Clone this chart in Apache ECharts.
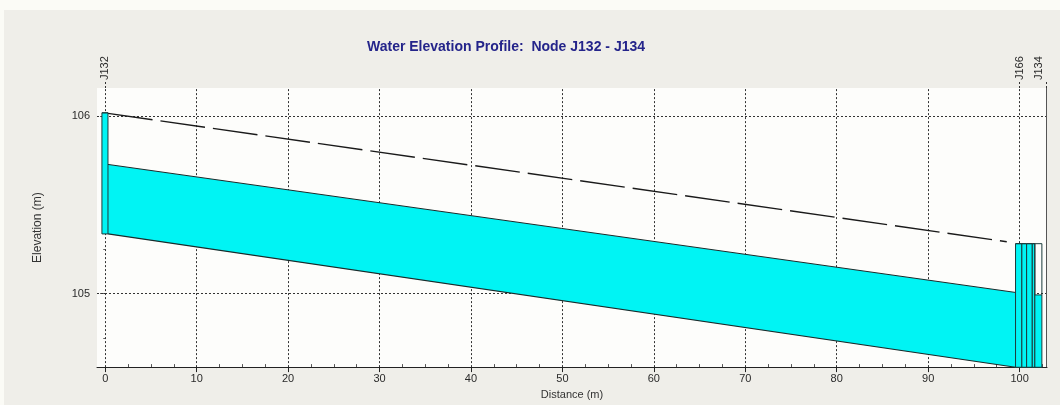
<!DOCTYPE html>
<html><head><meta charset="utf-8">
<script src="https://cdn.jsdelivr.net/npm/echarts@6/dist/echarts.min.js"></script>
<style>html,body{margin:0;padding:0;background:#fbfbf6}#c{width:1060px;height:405px}</style>
</head><body><div id="c"></div>
<script>
// ---- data ----
const titleText = 'Water Elevation Profile:  Node J132 - J134';
const xTickLabels = [0, 10, 20, 30, 40, 50, 60, 70, 80, 90, 100];
const xMinorTicks = [2.5, 5, 7.5, 12.5, 15, 17.5, 22.5, 25, 27.5, 32.5, 35, 37.5, 42.5, 45, 47.5,
  52.5, 55, 57.5, 62.5, 65, 67.5, 72.5, 75, 77.5, 82.5, 85, 87.5, 92.5, 95, 97.5, 102.5];
const yTickLabels = [105, 106];
const yMinorTicks = [104.75, 105.25, 105.5, 105.75];
const nodeNames = ['J132', 'J166', 'J134'];
const nodeX = [0, 100, 102.95];
// conduit J132 -> J166
const crownX = [0.3, 98.6];
const crownY = [106.017, 105.293];
const waterX = [0.3, 99.56];
const waterSurface = [105.729, 105.007];
const invertY = [105.337, 104.585];
// structures (manholes / short links): left, right, bottom, top, water level
const structX0 = [-0.36, 99.56, 100.25, 100.77, 101.39, 101.67];
const structX1 = [0.3, 100.25, 100.77, 101.39, 101.67, 102.44];
const structBottom = [105.337, 104.585, 104.585, 104.585, 104.585, 104.585];
const structTop = [106.02, 105.282, 105.282, 105.282, 105.282, 105.282];
const structWater = [106.02, 105.282, 105.282, 105.282, 105.282, 104.993];

// ---- chart ----
const FONT = 'Liberation Sans, Arial, sans-serif';
const X_MIN = -0.9, X_MAX = 103, Y_MIN = 104.586, Y_MAX = 106.16;
const CYAN = '#00f4f4';
const chart = echarts.init(document.getElementById('c'));

const structData = structX0.map((x0, i) => [x0, structX1[i], structBottom[i], structTop[i], structWater[i]]);

const gridMarks = xTickLabels.map(v => ({ xAxis: v }))
  .concat(yTickLabels.map(v => ({ yAxis: v })));

chart.setOption({
  backgroundColor: '#efeee9',
  animation: false,
  graphic: [
    { type: 'rect', left: 0, top: 0, shape: { width: 1060, height: 10 }, style: { fill: '#fbfbf6' }, z: -10 },
    { type: 'rect', left: 0, top: 0, shape: { width: 4, height: 405 }, style: { fill: '#fbfbf6' }, z: -10 }
  ],
  title: {
    text: titleText, left: 362, top: 35,
    textStyle: { fontFamily: FONT, fontSize: 14, fontWeight: 'bold', color: '#24248a' }
  },
  grid: { left: 97, right: 13, top: 88, bottom: 32, show: true, backgroundColor: '#fdfdfb', borderWidth: 0 },
  xAxis: [
    {
      type: 'value', position: 'bottom', min: X_MIN, max: X_MAX,
      axisLine: { show: true, lineStyle: { color: '#222', width: 1 } },
      axisTick: { show: true, customValues: xTickLabels, length: 5, lineStyle: { color: '#222' } },
      axisLabel: { customValues: xTickLabels, margin: 6, fontFamily: FONT, fontSize: 11, color: '#2a2a2a' },
      splitLine: { show: false },
      name: 'Distance (m)', nameLocation: 'middle', nameGap: 21,
      nameTextStyle: { fontFamily: FONT, fontSize: 11, color: '#333' }
    },
    {
      type: 'value', position: 'bottom', min: X_MIN, max: X_MAX,
      axisLine: { show: false },
      axisTick: { show: true, inside: true, customValues: xMinorTicks, length: 3, lineStyle: { color: '#555' } },
      axisLabel: { show: false }, splitLine: { show: false }
    },
    {
      type: 'value', position: 'top', min: X_MIN, max: X_MAX,
      axisLine: { show: false },
      axisTick: { show: true, customValues: nodeX, length: 8, lineStyle: { color: '#333', type: [2, 2] } },
      axisLabel: {
        customValues: nodeX, rotate: -90, margin: 8, fontFamily: FONT, fontSize: 11, color: '#2a2a2a',
        formatter: v => {
          const i = nodeX.indexOf(v);
          return i === nodeNames.length - 1 ? '{e|' + nodeNames[i] + '}' : nodeNames[i];
        },
        rich: { e: { fontFamily: FONT, fontSize: 11, color: '#2a2a2a', padding: [0, 0, 16, 0] } }
      },
      splitLine: { show: false }
    }
  ],
  yAxis: [
    {
      type: 'value', position: 'left', min: Y_MIN, max: Y_MAX,
      axisLine: { show: false },
      axisTick: { show: true, customValues: yTickLabels, length: 5, lineStyle: { color: '#333', type: [2, 1] } },
      axisLabel: { customValues: yTickLabels, margin: 7, fontFamily: FONT, fontSize: 11, color: '#2a2a2a' },
      splitLine: { show: false },
      name: 'Elevation (m)', nameLocation: 'middle', nameGap: 53, nameRotate: 90,
      nameTextStyle: { fontFamily: FONT, fontSize: 12, color: '#333' }
    },
    {
      type: 'value', position: 'left', min: Y_MIN, max: Y_MAX,
      axisLine: { show: false },
      axisTick: { show: true, customValues: yMinorTicks, length: 2, lineStyle: { color: '#666' } },
      axisLabel: { show: false }, splitLine: { show: false }
    }
  ],
  series: [
    {
      type: 'line', data: [], silent: true, z: 1,
      markLine: {
        silent: true, symbol: 'none', z: 1, label: { show: false },
        lineStyle: { color: '#333', type: [2, 2], width: 1 },
        data: gridMarks.concat([{ xAxis: nodeX[2], lineStyle: { color: '#555', type: 'solid', width: 1 } }])
      }
    },
    {
      type: 'custom', z: 2, silent: true, data: [[0]],
      renderItem: (params, api) => {
        const pts = [
          api.coord([waterX[0], waterSurface[0]]),
          api.coord([waterX[1], waterSurface[1]]),
          api.coord([waterX[1], invertY[1]]),
          api.coord([waterX[0], invertY[0]])
        ];
        return { type: 'polygon', shape: { points: pts }, style: { fill: CYAN, stroke: null } };
      }
    },
    {
      type: 'line', z: 3, silent: true, symbol: 'none',
      data: waterX.map((x, i) => [x, waterSurface[i]]),
      lineStyle: { color: '#1a2a2a', width: 1 }
    },
    {
      type: 'line', z: 3, silent: true, symbol: 'none',
      data: waterX.map((x, i) => [x, invertY[i]]),
      lineStyle: { color: '#1a2a2a', width: 1.2 }
    },
    {
      type: 'line', z: 3, silent: true, symbol: 'none',
      data: crownX.map((x, i) => [x, crownY[i]]),
      lineStyle: { color: '#1a1a1a', width: 1.4, type: [45, 8] }
    },
    {
      type: 'custom', z: 4, silent: true, data: structData,
      encode: { x: [0, 1], y: [2, 3, 4] },
      renderItem: (params, api) => {
        const x0 = api.value(0), x1 = api.value(1), b = api.value(2), t = api.value(3), w = api.value(4);
        const pTL = api.coord([x0, t]), pBR = api.coord([x1, b]), pW = api.coord([x0, w]);
        return {
          type: 'group',
          children: [
            { type: 'rect', shape: { x: pTL[0], y: pW[1], width: pBR[0] - pTL[0], height: pBR[1] - pW[1] },
              style: { fill: CYAN, stroke: null } },
            { type: 'line', shape: { x1: pTL[0], y1: pW[1], x2: pBR[0], y2: pW[1] },
              style: { stroke: '#1a3a3a', lineWidth: 1 } },
            { type: 'rect', shape: { x: pTL[0], y: pTL[1], width: pBR[0] - pTL[0], height: pBR[1] - pTL[1] },
              style: { fill: null, stroke: '#1a3a3a', lineWidth: 1 } }
          ]
        };
      }
    }
  ]
});
</script></body></html>
